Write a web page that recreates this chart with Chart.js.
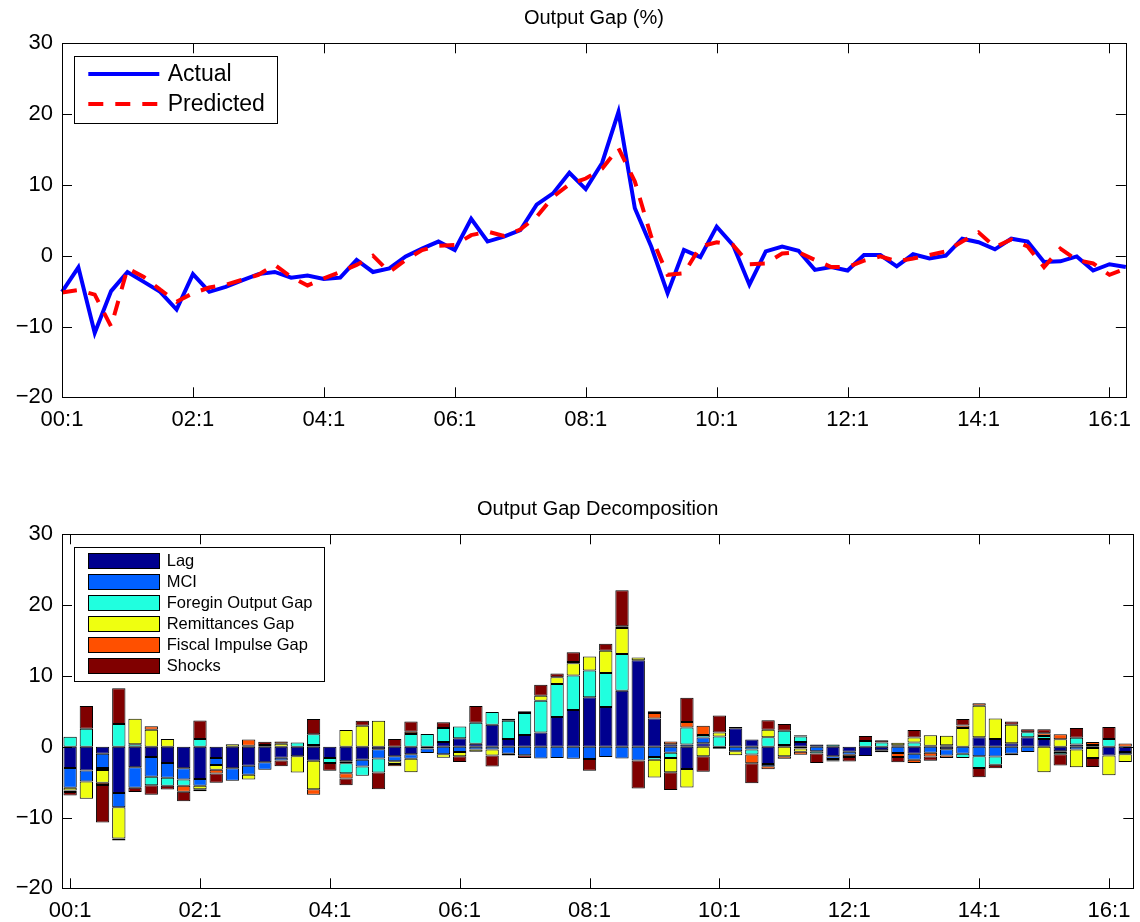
<!DOCTYPE html>
<html>
<head>
<meta charset="utf-8">
<title>Output Gap</title>
<script src="https://cdn.jsdelivr.net/npm/chart.js@4/dist/chart.umd.min.js"></script>
<style>
  html, body { margin: 0; padding: 0; background: #fff; }
  #wrap { position: relative; width: 1140px; height: 922px; }
  canvas { position: absolute; left: 0; }
</style>
</head>
<body>
<div id="wrap">
  <canvas id="gap" width="1140" height="461" style="top:0"></canvas>
  <canvas id="decomp" width="1140" height="461" style="top:461px"></canvas>
</div>
<script>
// Quarterly periods, 2000Q1 .. 2016Q2
const quarters = [
  '00:1','00:2','00:3','00:4', '01:1','01:2','01:3','01:4',
  '02:1','02:2','02:3','02:4', '03:1','03:2','03:3','03:4',
  '04:1','04:2','04:3','04:4', '05:1','05:2','05:3','05:4',
  '06:1','06:2','06:3','06:4', '07:1','07:2','07:3','07:4',
  '08:1','08:2','08:3','08:4', '09:1','09:2','09:3','09:4',
  '10:1','10:2','10:3','10:4', '11:1','11:2','11:3','11:4',
  '12:1','12:2','12:3','12:4', '13:1','13:2','13:3','13:4',
  '14:1','14:2','14:3','14:4', '15:1','15:2','15:3','15:4',
  '16:1','16:2'
];

// Labelled ticks on the time axis
const axisTicks = ['00:1','02:1','04:1','06:1','08:1','10:1','12:1','14:1','16:1'];

// Output gap (%)
const actual = [
  -5.1,-1.65,-10.9,-5.0,-2.3,-3.7,-5.1,-7.6,-2.6,-5.1,
  -4.4,-3.5,-2.6,-2.3,-3.1,-2.8,-3.3,-3.1,-0.6,-2.3,
  -1.8,-0.1,1.0,2.0,0.8,5.2,2.0,2.7,3.6,7.2,
  8.8,11.7,9.4,13.1,20.3,6.7,1.3,-5.3,0.8,-0.2,
  4.1,1.5,-4.1,0.6,1.3,0.7,-2.0,-1.6,-2.1,0.1,
  0.1,-1.5,0.2,-0.4,0.0,2.4,1.9,0.9,2.4,2.0,
  -0.9,-0.8,-0.1,-2.1,-1.2,-1.6
];
const predicted = [
  -5.2,-4.85,-5.5,-10.0,-1.8,-3.0,-4.8,-6.5,-5.3,-4.5,
  -4.1,-3.4,-2.7,-1.3,-3.0,-4.2,-3.2,-2.3,-1.3,0.0,
  -2.3,-0.6,0.8,1.4,1.5,2.9,3.4,2.8,3.7,5.5,
  8.3,10.1,10.9,12.3,15.2,10.5,2.7,-2.7,-2.5,1.3,
  1.9,1.5,-1.2,-1.1,0.3,0.5,-0.6,-1.6,-1.6,-0.7,
  -0.1,-0.8,-0.4,0.1,0.6,2.0,3.3,1.2,2.3,1.3,
  -1.6,1.0,-0.6,-1.1,-2.7,-1.8
];

// Contributions to the output gap
const lag = [
  -3.0,-3.35,-1.0,-6.55,-2.9,-1.45,-2.3,-3.05,-4.55,-1.6,
  -3.05,-2.7,-2.2,-1.55,-1.35,-2.0,-1.6,-2.05,-1.85,-0.35,
  -1.35,-1.05,-0.25,0.65,1.2,0.4,3.1,1.1,1.65,2.0,
  4.2,5.2,7.0,5.6,7.9,12.2,4.0,0.35,-3.15,0.5,
  -0.3,2.6,1.0,-2.45,0.25,0.65,0.3,-1.35,-0.7,-1.3,
  -0.5,0,-1.0,0.15,-0.35,0,1.35,1.1,0.5,1.35,
  1.1,-0.65,0.3,-0.2,-1.25,-0.75
];
const mci = [
  -2.8,-1.55,-2.0,-2.0,-2.9,-2.8,-2.1,-1.6,-0.95,-1.0,
  -1.75,-1.25,-1.05,-0.4,0,0.25,0,-0.3,-0.95,-1.3,
  -0.7,-0.65,-0.65,-1.05,-0.75,-0.4,-0.4,-1.0,-1.2,-1.65,
  -1.6,-1.7,-1.75,-1.45,-1.65,-1.95,-1.45,-0.85,0.3,0.8,
  0,-0.65,-0.4,-0.3,0,-0.25,-0.65,-0.4,-0.45,0,
  0,-0.9,-0.85,-0.85,-0.9,-1.0,-1.35,-1.4,-1.0,-0.75,
  0,-0.1,-0.4,0,0,-0.3
];
const foreignGap = [
  1.4,2.55,-0.3,3.2,0.35,-1.2,-1.1,-0.85,1.1,0,
  0,0.15,0.25,0,0.6,1.5,-0.7,-1.4,-1.3,-2.0,
  0,1.8,1.8,2.0,1.65,3.0,1.8,2.55,3.1,4.5,
  4.65,4.85,3.75,4.8,5.2,0,-0.4,-0.75,2.4,0.35,
  1.45,0,-0.7,1.35,2.0,0.8,-0.3,0.3,0,0.8,
  0.6,0.2,0.6,0,0.2,-0.6,-1.65,-1.15,-0.2,0.7,
  0.4,-0.3,0.95,0.25,1.1,0
];
const remittancesGap = [
  -0.4,-2.45,-1.8,-4.4,3.6,2.4,1.1,0,-0.5,-0.65,
  0.35,-0.7,0,0.4,-2.3,-4.0,0,2.35,2.95,3.65,
  -0.4,-1.9,0,-0.5,-0.6,-0.3,-0.85,0,0.25,0.7,
  0.95,1.75,2.0,3.15,3.65,0.4,-2.5,-2.0,-2.6,-1.35,
  0.55,-0.55,0,1.05,-1.35,-0.45,0,0,0,0,
  -0.3,0.35,0.7,1.45,1.35,2.65,4.45,2.9,2.6,0,
  -3.6,1.05,-2.5,-1.4,-2.8,-1.1
];
const fiscalGap = [
  -0.2,0,-0.3,-0.3,0,0.5,0,-0.85,-0.3,-0.55,
  0,0.85,0,0.35,0,-0.8,0,-0.75,0,0,
  -0.3,0.3,0,0,0,0,0,-0.25,0,0,
  0,0.15,0,0,0.25,0,0.75,0.4,0.8,1.3,
  0,0,-1.25,-0.45,-0.35,-0.45,0,-0.15,-0.3,0,
  0,-0.55,-0.45,-0.55,-0.35,0.35,0.35,0,0,0,
  0.4,0.7,0,0.4,0,0.45
];
const shocks = [
  -0.5,3.2,-5.3,5.05,-0.6,-1.35,-0.55,-1.35,2.6,-1.3,
  0,0,0.45,-0.8,0,2.15,-1.1,-0.95,0.7,-2.35,
  1.1,1.45,0,0.8,-0.8,2.35,-1.55,0.3,-0.4,1.55,
  0.55,1.4,-1.65,1.0,5.1,-3.95,0.25,-2.5,3.4,-2.2,
  2.4,0.2,-2.8,1.35,0.95,0.15,-1.35,-0.2,-0.65,0.7,
  0.3,-0.75,1.05,-0.6,0,0.9,-1.3,-0.5,0.45,0.4,
  0.55,-1.6,1.4,-1.25,1.7,0
];

const FONT = '"Liberation Sans", Arial, Helvetica, sans-serif';

// Boxed axes with inward tick marks on all four sides, plus the panel title
const boxedAxes = {
  id: 'boxedAxes',
  afterDatasetsDraw(chart, args, opts) {
    const { ctx, chartArea: a, scales: { x, y } } = chart;
    const L = 10;
    ctx.save();
    ctx.strokeStyle = '#000';
    ctx.lineWidth = 1;
    ctx.beginPath();
    axisTicks.forEach(lbl => {
      const px = Math.round(x.getPixelForValue(quarters.indexOf(lbl))) + 0.5;
      ctx.moveTo(px, a.bottom); ctx.lineTo(px, a.bottom - L);
      ctx.moveTo(px, a.top); ctx.lineTo(px, a.top + L);
    });
    y.ticks.forEach(t => {
      const py = Math.round(y.getPixelForValue(t.value)) + 0.5;
      ctx.moveTo(a.left, py); ctx.lineTo(a.left + L, py);
      ctx.moveTo(a.right, py); ctx.lineTo(a.right - L, py);
    });
    ctx.stroke();
    ctx.strokeRect(Math.round(a.left) + 0.5, Math.round(a.top) + 0.5,
                   Math.round(a.right - a.left), Math.round(a.bottom - a.top));
    ctx.fillStyle = '#000';
    ctx.font = `20px ${FONT}`;
    ctx.textAlign = 'center';
    ctx.textBaseline = 'middle';
    ctx.fillText(opts.title, (a.left + a.right) / 2, a.top - 25);
    ctx.restore();
  }
};

// Legend box placed inside the upper-left corner of the plot area
const innerLegend = {
  id: 'innerLegend',
  afterDraw(chart, args, opts) {
    const { ctx, chartArea: a } = chart;
    const bx = a.left + 11.7, by = a.top + 12.4;
    ctx.save();
    ctx.fillStyle = '#fff';
    ctx.fillRect(bx, by, opts.width, opts.height);
    ctx.strokeStyle = '#000';
    ctx.lineWidth = 1;
    ctx.strokeRect(Math.round(bx) + 0.5, Math.round(by) + 0.5, Math.round(opts.width), Math.round(opts.height));
    ctx.font = `${opts.fontSize}px ${FONT}`;
    ctx.textAlign = 'left';
    ctx.textBaseline = 'middle';
    chart.data.datasets.forEach((ds, i) => {
      const cy = by + opts.firstRow + i * opts.rowGap;
      const sx = bx + 14.6, ex = bx + 85.6;
      if (opts.kind === 'line') {
        ctx.strokeStyle = ds.borderColor;
        ctx.lineWidth = ds.borderWidth;
        ctx.setLineDash(ds.borderDash || []);
        ctx.beginPath();
        ctx.moveTo(sx, cy); ctx.lineTo(ex, cy);
        ctx.stroke();
        ctx.setLineDash([]);
      } else {
        ctx.fillStyle = ds.backgroundColor;
        ctx.fillRect(sx, cy - 7.5, ex - sx, 15);
        ctx.strokeStyle = '#000';
        ctx.lineWidth = 1;
        ctx.strokeRect(Math.round(sx) + 0.5, Math.round(cy - 7.5) + 0.5, Math.round(ex - sx), 15);
      }
      ctx.fillStyle = '#000';
      ctx.fillText(ds.label, bx + opts.textX, cy + 1);
    });
    ctx.restore();
  }
};

function yAxis() {
  return {
    min: -20, max: 30,
    grid: { display: false, drawTicks: false },
    border: { display: false },
    ticks: {
      stepSize: 10, padding: 9, color: '#000',
      font: { family: FONT, size: 22 },
      callback: v => String(v).replace('-', '\u2212')
    },
    afterFit(s) { s.width = 62; }
  };
}
function xAxis(offset, height) {
  return {
    type: 'category', offset,
    grid: { display: false, drawTicks: false },
    border: { display: false },
    ticks: {
      autoSkip: false, maxRotation: 0, minRotation: 0, padding: 9, color: '#000',
      font: { family: FONT, size: 22 },
      callback(v) {
        const l = this.getLabelForValue(v);
        return axisTicks.includes(l) ? l : null;
      }
    },
    afterFit(s) { s.height = height; }
  };
}

new Chart(document.getElementById('gap'), {
  type: 'line',
  data: {
    labels: quarters,
    datasets: [
      { label: 'Actual', data: actual, borderColor: '#0000FF', backgroundColor: '#0000FF',
        borderWidth: 4, pointRadius: 0, tension: 0, fill: false, order: 1 },
      { label: 'Predicted', data: predicted, borderColor: '#FF0000', backgroundColor: '#FF0000',
        borderWidth: 4, borderDash: [15, 12], pointRadius: 0, tension: 0, fill: false, order: 0 }
    ]
  },
  options: {
    responsive: false, animation: false, devicePixelRatio: 1,
    layout: { padding: { top: 43.3, right: 6.7, left: 0, bottom: 0 } },
    scales: { x: xAxis(false, 63.7), y: yAxis() },
    plugins: {
      legend: { display: false }, tooltip: { enabled: false },
      boxedAxes: { title: 'Output Gap (%)' },
      innerLegend: { kind: 'line', width: 202.6, height: 67, firstRow: 18.3, rowGap: 30, fontSize: 23, textX: 94 }
    }
  },
  plugins: [boxedAxes, innerLegend]
});

const jet6 = ['#00008F', '#0060FF', '#20FFDF', '#EFFF10', '#FF5000', '#800000'];
const parts = [
  ['Lag', lag], ['MCI', mci], ['Foregin Output Gap', foreignGap],
  ['Remittances Gap', remittancesGap], ['Fiscal Impulse Gap', fiscalGap], ['Shocks', shocks]
];

new Chart(document.getElementById('decomp'), {
  type: 'bar',
  data: {
    labels: quarters,
    datasets: parts.map(([label, data], i) => ({
      label, data,
      backgroundColor: jet6[i], borderColor: '#000', borderWidth: 1, borderSkipped: false,
      categoryPercentage: 1, barPercentage: 0.82, inflateAmount: 0
    }))
  },
  options: {
    responsive: false, animation: false, devicePixelRatio: 1,
    layout: { padding: { top: 73.3, right: 6.7, left: 0, bottom: 0 } },
    scales: {
      x: Object.assign(xAxis(true, 33.7), { stacked: true }),
      y: Object.assign(yAxis(), { stacked: true })
    },
    plugins: {
      legend: { display: false }, tooltip: { enabled: false },
      boxedAxes: { title: 'Output Gap Decomposition' },
      innerLegend: { kind: 'bar', width: 249.6, height: 133.6, firstRow: 14.2, rowGap: 21, fontSize: 16.5, textX: 93 }
    }
  },
  plugins: [boxedAxes, innerLegend]
});
</script>
</body>
</html>
